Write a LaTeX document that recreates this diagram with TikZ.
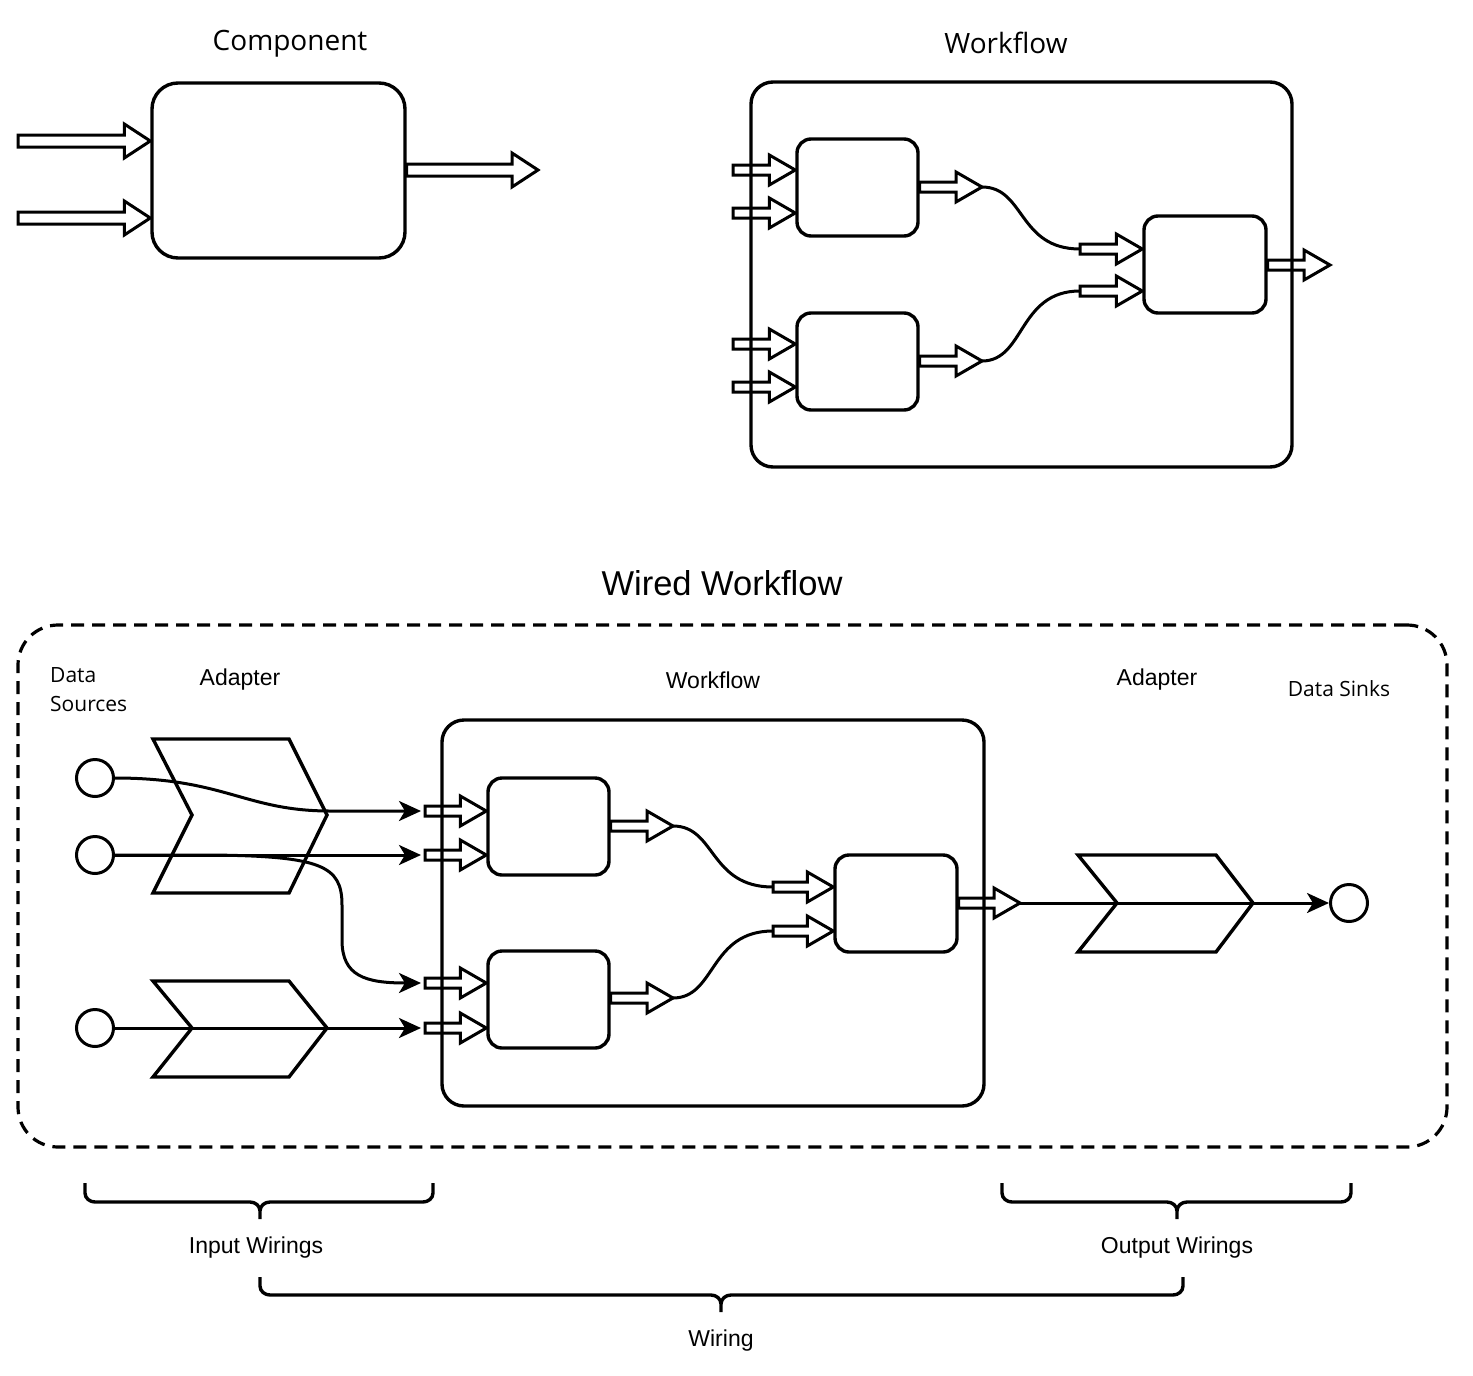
\documentclass[tikz,border=0pt]{standalone}
\usepackage{fontspec}
\setmainfont{Liberation Sans}
\newfontfamily\segoe{Open Sans}
\usetikzlibrary{calc,arrows.meta}

\newcommand\harrowgen[5]{%
  \draw[hollow] let \p1=#1, \p2=#2 in (\x1,\y2+#3) -- (\x2-#5,\y2+#3) -- (\x2-#5,\y2+#4) -- (\x2,\y2) -- (\x2-#5,\y2-#4) -- (\x2-#5,\y2-#3) -- (\x1,\y2-#3) -- cycle;}
\newcommand\harrow[2]{\harrowgen{#1}{#2}{5pt}{15pt}{26pt}}
\newcommand\harrowL[2]{\harrowgen{#1}{#2}{6pt}{17pt}{26pt}}
% L R cx top h tip
\newcommand\hbrace[6]{%
  \draw[brace] (#1,#4) -- (#1,#5-9) to[out=-90,in=180] (#1+10,#5) -- (#3-10,#5) to[out=0,in=90] (#3,#5+9) -- (#3,#6)
    (#3,#5+9) to[out=90,in=180] (#3+10,#5) -- (#2-10,#5) to[out=0,in=-90] (#2,#5-9) -- (#2,#4);}

\begin{document}
\begin{tikzpicture}[x=1pt,y=-1pt,
  box/.style={draw,line width=3.4pt,rounded corners=14pt,minimum width=121pt,minimum height=97pt,inner sep=0pt},
  hollow/.style={line width=3pt,line join=miter},
  wire/.style={line width=3pt,-{Stealth[length=22pt,width=20pt,inset=6pt]}},
  chev/.style={line width=3.4pt,line join=miter},
  brace/.style={line width=3.4pt},
  curve/.style={line width=3pt},
  src/.style={draw,circle,line width=3pt,minimum size=37pt,inner sep=0pt},
  lbl/.style={font=\fontsize{23}{27}\selectfont,inner sep=0pt},
  slbl/.style={font=\segoe\fontsize{21}{29}\selectfont,inner sep=0pt},
]
\useasboundingbox[fill=white] (0,0) rectangle (1473,1376);

% titles
\node[font=\segoe\fontsize{28}{34}\selectfont] (t1) at (290,44) {Component};
\node[font=\segoe\fontsize{28}{34}\selectfont] (t2) at (1006,43) {Workflow};
\node[font=\fontsize{34.5}{41}\selectfont] (t3) at (722,583) {Wired Workflow};

% ---------- component
\node[box,rounded corners=26pt,minimum width=253pt,minimum height=175pt] (cbox) at (278.5,170.5) {};
\harrowL{(18,141)}{(cbox.west |- 0,141)}
\harrowL{(18,218)}{(cbox.west |- 0,218)}
\harrowL{(cbox.east |- 0,170)}{(538,170)}

% ---------- workflow (top)
\node[box,rounded corners=22pt,minimum width=541pt,minimum height=385pt] (wf) at (1021.5,274.5) {};
\node[box] (wA) at (857.5,187.5) {};
\node[box] (wB) at (857.5,361.5) {};
\node[box,minimum width=122pt] (wC) at (1205,264.5) {};
\harrow{(733,170)}{(wA.west |- 0,170)}
\harrow{(733,213)}{(wA.west |- 0,213)}
\harrow{(733,344)}{(wB.west |- 0,344)}
\harrow{(733,387)}{(wB.west |- 0,387)}
\coordinate (wAo) at (982,187);
\coordinate (wBo) at (982,361);
\harrow{(wA.east |- wAo)}{(wAo)}
\harrow{(wB.east |- wBo)}{(wBo)}
\coordinate (wC1) at (1080,249);
\coordinate (wC2) at (1080,291);
\harrow{(wC1)}{(wC.west |- wC1)}
\harrow{(wC2)}{(wC.west |- wC2)}
\harrow{(wC.east |- 0,265)}{(1330,265)}
\draw[curve] (wAo) .. controls (1025,187) and (1018,249) .. (wC1);
\draw[curve] (wBo) .. controls (1025,361) and (1018,291) .. (wC2);

% ---------- wired workflow
\node[draw,line width=3.2pt,dash pattern=on 13pt off 8pt,rounded corners=40pt,minimum width=1429pt,minimum height=522pt] (ww) at (732.5,886) {};
\node[box,rounded corners=22pt,minimum width=542pt,minimum height=386pt] (wwf) at (713,913) {};
\node[box] (xA) at (548.5,826.5) {};
\node[box] (xB) at (548.5,999.5) {};
\node[box,minimum width=122pt] (xC) at (896,903.5) {};
\harrow{(425,811)}{(xA.west |- 0,811)}
\harrow{(425,855)}{(xA.west |- 0,855)}
\harrow{(425,983)}{(xB.west |- 0,983)}
\harrow{(425,1028)}{(xB.west |- 0,1028)}
\coordinate (xAo) at (673,826);
\coordinate (xBo) at (673,998);
\harrow{(xA.east |- xAo)}{(xAo)}
\harrow{(xB.east |- xBo)}{(xBo)}
\coordinate (xC1) at (773,887);
\coordinate (xC2) at (773,931);
\harrow{(xC1)}{(xC.west |- xC1)}
\harrow{(xC2)}{(xC.west |- xC2)}
\coordinate (xCo) at (1020,903);
\harrow{(xC.east |- xCo)}{(xCo)}
\draw[curve] (xAo) .. controls (716,826) and (709,887) .. (xC1);
\draw[curve] (xBo) .. controls (716,998) and (709,931) .. (xC2);

% adapters
\draw[chev] (153,739) -- (289,739) -- (327,815) -- (289,893) -- (153,893) -- (192,815) -- cycle;
\draw[chev] (153,981) -- (289,981) -- (327,1028) -- (289,1077) -- (153,1077) -- (192,1028) -- cycle;
\draw[chev] (1078,855) -- (1216,855) -- (1253,903) -- (1216,952) -- (1078,952) -- (1117,903) -- cycle;

% sources / sink
\node[src] (src1) at (95,778) {};
\node[src] (src2) at (95,855) {};
\node[src] (src3) at (95,1028) {};
\node[src] (sink) at (1349,903) {};
\coordinate (e1) at (421,811);
\coordinate (e2) at (421,855);
\coordinate (e3) at (421,983);
\coordinate (e4) at (421,1028);
\draw[wire] (src1.east) .. controls (225,778) and (245,811) .. (330,811) -- (e1);
\draw[wire] (src2.east) -- (e2);
\draw[wire] (src2.east) -- (210,855) .. controls (322,856) and (342,866) .. (342,905) -- (342,940) .. controls (342,976) and (365,983) .. (e3);
\draw[wire] (src3.east) -- (e4);
\draw[wire] (xCo) -- (sink.west);

% labels
\node[slbl,anchor=west,align=left] (ds) at (50,690) {Data\\Sources};
\node[lbl] (ad1) at (240,680) {Adapter};
\node[lbl] (wfl) at (713,680) {Workflow};
\node[lbl] (ad2) at (1157,680) {Adapter};
\node[slbl] (dsk) at (1339,689) {Data Sinks};

% braces
\hbrace{85}{433}{260}{1183}{1202}{1219}
\hbrace{1002}{1351}{1177}{1183}{1202}{1219}
\hbrace{260}{1183}{721}{1277}{1295}{1312}
\node[lbl] (iw) at (256,1248) {Input Wirings};
\node[lbl] (ow) at (1177,1248) {Output Wirings};
\node[lbl] (wr) at (721,1341) {Wiring};
\end{tikzpicture}
\end{document}
